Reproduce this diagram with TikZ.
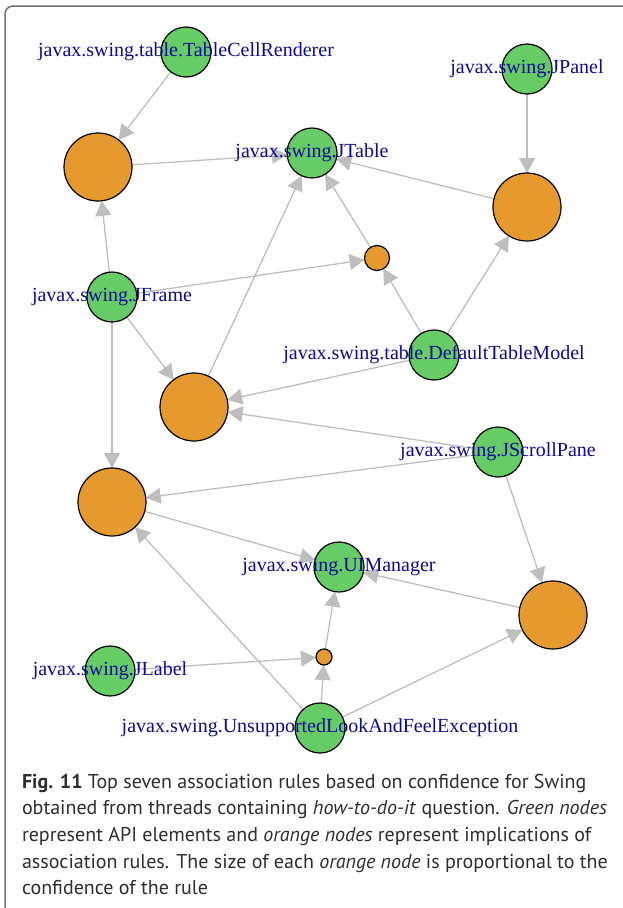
\documentclass[tikz,border=0pt]{standalone}
\usepackage{fontspec}
\setmainfont{Liberation Serif}
\newfontfamily\capfont{PT Sans}
\usepackage{xcolor}
\usepackage{tikz}
\usetikzlibrary{arrows.meta, backgrounds}

\definecolor{apigreen}{RGB}{102,204,102}
\definecolor{implorange}{RGB}{230,154,46}
\definecolor{edgegray}{RGB}{190,190,190}
\definecolor{lblblue}{RGB}{10,10,150}
\definecolor{capgray}{RGB}{45,45,45}
\definecolor{framegray}{RGB}{110,110,110}

\begin{document}
\begin{tikzpicture}[
  x=1pt, y=-1pt,
  every node/.style={inner sep=0pt, outer sep=0pt},
  gnode/.style={circle, draw=black, line width=1.2pt, fill=apigreen, minimum size=50pt},
  onode/.style={circle, draw=black, line width=1.2pt, fill=implorange, minimum size=#1},
  lbl/.style={font=\fontsize{20}{22}\selectfont, text=lblblue},
  arr/.style={-{Triangle[length=15pt, width=16pt]}, draw=edgegray, line width=1.3pt},
]
  \useasboundingbox (0,0) rectangle (623,908);
  \draw[framegray, line width=1.5pt, rounded corners=8pt] (5,908) -- (5,6) -- (623,6);

  % API elements
  \node[gnode] (tcr) at (186,52) {};
  \node[gnode] (jpanel) at (527,69) {};
  \node[gnode] (jtable) at (312,153) {};
  \node[gnode] (jframe) at (112,297) {};
  \node[gnode] (dtm) at (434,355) {};
  \node[gnode] (jscroll) at (498,452) {};
  \node[gnode] (uim) at (339,567) {};
  \node[gnode] (jlabel) at (110,671) {};
  \node[gnode] (ulaf) at (320,728) {};

  % implications
  \node[onode=68pt] (o1) at (98,167) {};
  \node[onode=68pt] (o2) at (527,207) {};
  \node[onode=25pt] (o3) at (377,258) {};
  \node[onode=68pt] (o4) at (194,407) {};
  \node[onode=68pt] (o5) at (112,502) {};
  \node[onode=68pt] (o6) at (553,615) {};
  \node[onode=16pt] (o7) at (324,657) {};

  \begin{scope}[on background layer]
    \draw[arr] (tcr) -- (o1);
    \draw[arr] (o1) -- (jtable);
    \draw[arr] (jpanel) -- (o2);
    \draw[arr] (o2) -- (jtable);
    \draw[arr] (jframe) -- (o1);
    \draw[arr] (jframe) -- (o3);
    \draw[arr] (jframe) -- (o4);
    \draw[arr] (jframe) -- (o5);
    \draw[arr] (o3) -- (jtable);
    \draw[arr] (dtm) -- (o3);
    \draw[arr] (dtm) -- (o2);
    \draw[arr] (dtm) -- (o4);
    \draw[arr] (o4) -- (jtable);
    \draw[arr] (jscroll) -- (o4);
    \draw[arr] (jscroll) -- (o5);
    \draw[arr] (jscroll) -- (o6);
    \draw[arr] (o5) -- (uim);
    \draw[arr] (o6) -- (uim);
    \draw[arr] (jlabel) -- (o7);
    \draw[arr] (ulaf) -- (o7);
    \draw[arr] (ulaf) -- (o5);
    \draw[arr] (ulaf) -- (o6);
    \draw[arr] (o7) -- (uim);
  \end{scope}

  % labels on top
  \node[lbl] (tcr-l) at (tcr) {javax.swing.table.TableCellRenderer};
  \node[lbl] (jpanel-l) at (jpanel) {javax.swing.JPanel};
  \node[lbl] (jtable-l) at (jtable) {javax.swing.JTable};
  \node[lbl] (jframe-l) at (jframe) {javax.swing.JFrame};
  \node[lbl] (dtm-l) at (dtm) {javax.swing.table.DefaultTableModel};
  \node[lbl] (jscroll-l) at (jscroll) {javax.swing.JScrollPane};
  \node[lbl] (uim-l) at (uim) {javax.swing.UIManager};
  \node[lbl] (jlabel-l) at (jlabel) {javax.swing.JLabel};
  \node[lbl] (ulaf-l) at (ulaf) {javax.swing.UnsupportedLookAndFeelException};

  % caption
  \node[anchor=north west, align=left, text=capgray,
        font=\capfont\fontsize{20}{26.6}\selectfont] (cap) at (22,774)
    {\textbf{Fig. 11} Top seven association rules based on confidence for Swing\\
     obtained from threads containing \textit{how-to-do-it} question. \textit{Green nodes}\\
     represent API elements and \textit{orange nodes} represent implications of\\
     association rules. The size of each \textit{orange node} is proportional to the\\
     confidence of the rule};
\end{tikzpicture}
\end{document}
